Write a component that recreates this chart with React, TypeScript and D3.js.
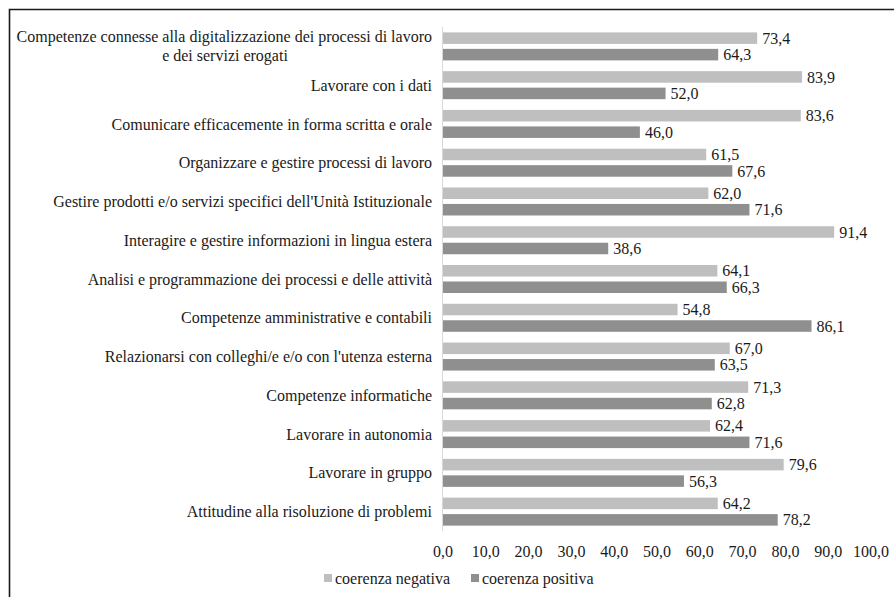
import React from "react";
import * as d3 from "d3";

const categories: string[][] = [
  ["Competenze connesse alla digitalizzazione dei processi di lavoro", "e dei servizi erogati"],
  ["Lavorare con i dati"],
  ["Comunicare efficacemente in forma scritta e orale"],
  ["Organizzare e gestire processi di lavoro"],
  ["Gestire prodotti e/o servizi specifici dell'Unità Istituzionale"],
  ["Interagire e gestire informazioni in lingua estera"],
  ["Analisi e programmazione dei processi e delle attività"],
  ["Competenze amministrative e contabili"],
  ["Relazionarsi con colleghi/e e/o con l'utenza esterna"],
  ["Competenze informatiche"],
  ["Lavorare in autonomia"],
  ["Lavorare in gruppo"],
  ["Attitudine alla risoluzione di problemi"],
];

const negativa: number[] = [73.4, 83.9, 83.6, 61.5, 62.0, 91.4, 64.1, 54.8, 67.0, 71.3, 62.4, 79.6, 64.2];
const positiva: number[] = [64.3, 52.0, 46.0, 67.6, 71.6, 38.6, 66.3, 86.1, 63.5, 62.8, 71.6, 56.3, 78.2];

const seriesNames = ["coerenza negativa", "coerenza positiva"];
const seriesColors = ["#bfbfbf", "#8f8f8f"];
const ticks = [0, 10, 20, 30, 40, 50, 60, 70, 80, 90, 100];

const fmt = (v: number) => v.toFixed(1).replace(".", ",");

export default function App() {
  const W = 894, H = 597;
  const x = d3.scaleLinear().domain([0, 100]).range([443, 871]);
  const idx = categories.map((_, i) => String(i));
  const y = d3.scaleBand().domain(idx).range([27, 531]).paddingInner(0).paddingOuter(0);
  const yi = d3.scaleBand().domain(seriesNames).range([5.4, 33.4]).paddingInner(0.3);
  const data = [negativa, positiva];
  const ts: React.CSSProperties = { fontFamily: "'Liberation Serif', 'Times New Roman', serif", fontSize: "16px" };

  return (
    <svg width={W} height={H} style={{ position: "absolute", left: 0, top: 0, background: "#fff" }}>
      <rect x={0} y={0} width={W} height={H} fill="#fff" />
      <path d={`M9.5,${H} L9.5,9.5 L${W},9.5`} fill="none" stroke="#1a1a1a" strokeWidth={1.6} />
      {categories.map((lines, i) => {
        const cy = (y(String(i)) as number) + y.bandwidth() / 2;
        const lh = 19;
        const startY = cy - ((lines.length - 1) * lh) / 2;
        return lines.map((l, j) => (
          <text key={`c${i}-${j}`} x={j > 0 ? 225 : 432} y={startY + j * lh} dy="0.35em"
            textAnchor={j > 0 ? "middle" : "end"} style={ts} fill="#1a1a1a">
            {l}
          </text>
        ));
      })}
      {data.map((vals, s) =>
        vals.map((v, i) => {
          const by = (y(String(i)) as number) + (yi(seriesNames[s]) as number);
          return (
            <g key={`b${s}-${i}`}>
              <rect x={x(0)} y={by} width={x(v) - x(0)} height={yi.bandwidth()} fill={seriesColors[s]} />
              <text x={x(v) + 5} y={by + yi.bandwidth() / 2} dy="0.35em" style={ts} fill="#1a1a1a">
                {fmt(v)}
              </text>
            </g>
          );
        })
      )}
      <line x1={x(0) - 0.5} x2={x(0) - 0.5} y1={27} y2={531} stroke="#d9d9d9" strokeWidth={1} />
      {ticks.map((t) => (
        <text key={"t" + t} x={x(t)} y={551} dy="0.35em" textAnchor="middle" style={ts} fill="#1a1a1a">
          {fmt(t)}
        </text>
      ))}
      {seriesNames.map((n, s) => {
        const lx = [324, 471][s];
        return (
          <g key={"l" + s}>
            <rect x={lx} y={574} width={8} height={8} fill={seriesColors[s]} />
            <text x={lx + 11} y={578} dy="0.35em" style={ts} fill="#1a1a1a">
              {n}
            </text>
          </g>
        );
      })}
    </svg>
  );
}
